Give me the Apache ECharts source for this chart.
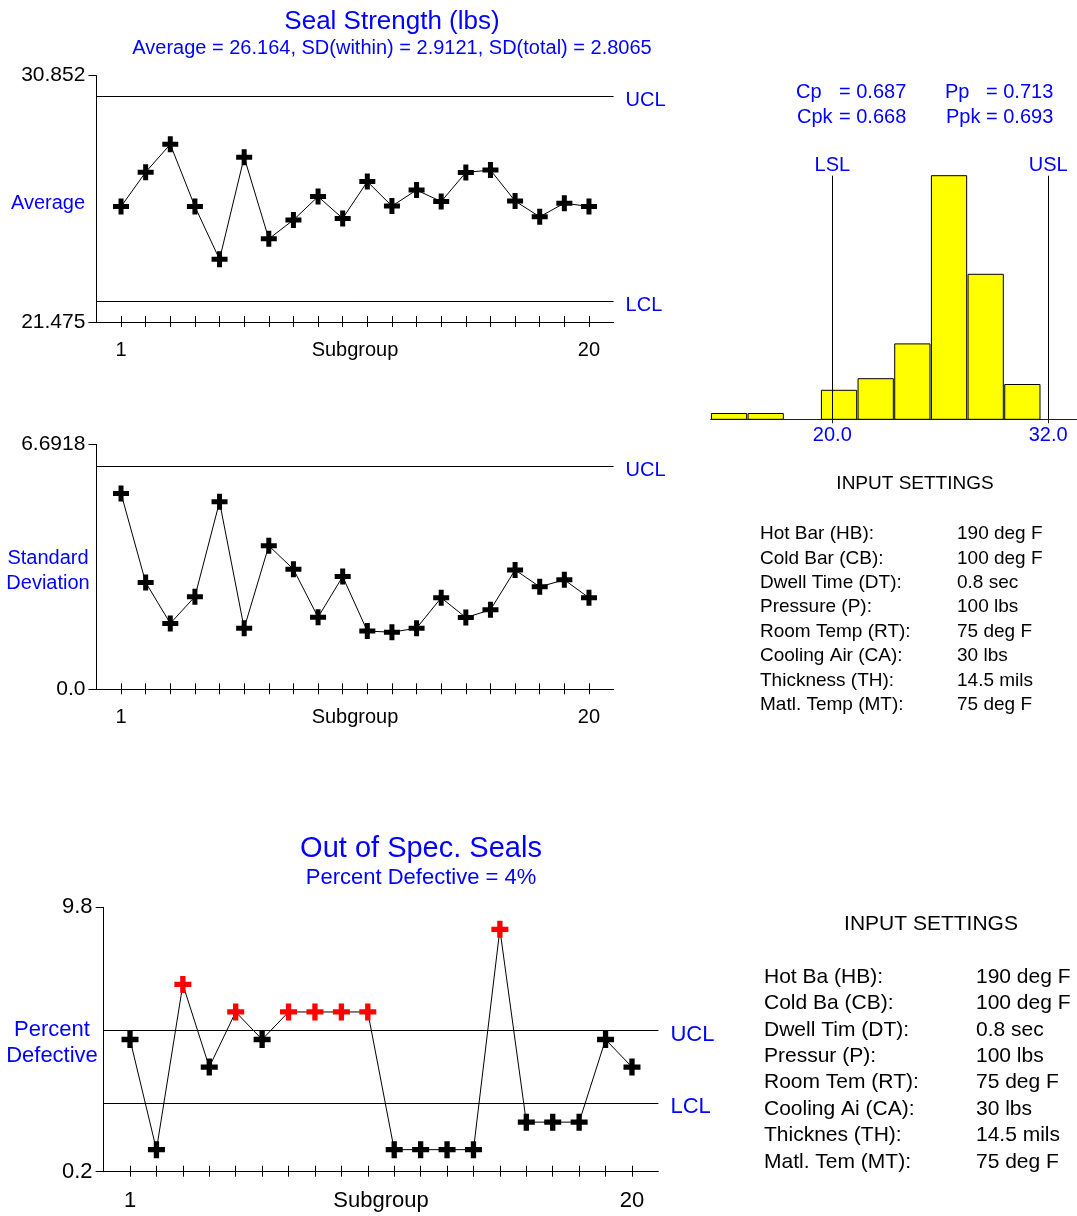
<!DOCTYPE html>
<html>
<head>
<meta charset="utf-8">
<title>Seal Strength</title>
<script src="https://cdn.jsdelivr.net/npm/echarts@6/dist/echarts.min.js"></script>
<style>
  html, body { margin: 0; padding: 0; background: #fff; }
  #chart { width: 1077px; height: 1216px; }
</style>
</head>
<body>
<div id="chart"></div>
<script>
// ---- data ----
const subgroups = [1, 2, 3, 4, 5, 6, 7, 8, 9, 10, 11, 12, 13, 14, 15, 16, 17, 18, 19, 20];
const subgroupLabels = [1, 20];

const avgValues = [25.87, 27.18, 28.24, 25.87, 23.86, 27.75, 24.64, 25.36, 26.25, 25.42,
                   26.82, 25.89, 26.50, 26.06, 27.17, 27.26, 26.08, 25.48, 26.00, 25.87];
const avgLimits = { UCL: 30.071, LCL: 22.257 };
const avgRange = [21.475, 30.852];
const avgTickLabels = ['21.475', '30.852'];

const sdValues = [5.35, 2.92, 1.80, 2.53, 5.12, 1.67, 3.92, 3.28, 1.97, 3.08,
                  1.59, 1.56, 1.67, 2.50, 1.96, 2.17, 3.26, 2.80, 2.99, 2.50];
const sdLimits = { UCL: 6.08 };
const sdRange = [0, 6.6918];
const sdTickLabels = ['0.0', '6.6918'];

const pctValues = [5, 1, 7, 4, 6, 5, 6, 6, 6, 6, 1, 1, 1, 1, 9, 2, 2, 2, 5, 4];
const pctLimits = { UCL: 5.32, LCL: 2.68 };
const pctRange = [0.2, 9.8];
const pctTickLabels = ['0.2', '9.8'];

// histogram of individual seal strengths
const binStart = 13.24;
const binWidth = 2.038;
const binCounts = [1, 1, 0, 5, 7, 13, 42, 25, 6];
const specLimits = { LSL: 20, USL: 32 };
const histTickLabels = ['20.0', '32.0'];

const capability = [['Cp', '0.687'], ['Cpk', '0.668'], ['Pp', '0.713'], ['Ppk', '0.693']];

const settingNames = ['Hot Bar (HB):', 'Cold Bar (CB):', 'Dwell Time (DT):', 'Pressure (P):',
                      'Room Temp (RT):', 'Cooling Air (CA):', 'Thickness (TH):', 'Matl. Temp (MT):'];
const settingNamesShort = ['Hot Ba (HB):', 'Cold Ba (CB):', 'Dwell Tim (DT):', 'Pressur (P):',
                           'Room Tem (RT):', 'Cooling Ai (CA):', 'Thicknes (TH):', 'Matl. Tem (MT):'];
const settingValues = ['190 deg F', '100 deg F', '0.8 sec', '100 lbs',
                       '75 deg F', '30 lbs', '14.5 mils', '75 deg F'];

// ---- styling ----
const FONT = "'Liberation Sans', Arial, sans-serif";
const BLUE = '#0000ff';
const RED = '#ff0000';
const PLUS = 'path://M5.5,0H10.5V5.5H16V10.5H10.5V16H5.5V10.5H0V5.5H5.5Z';

const chart = echarts.init(document.getElementById('chart'));

function pairs(vals) { return vals.map((v, i) => [subgroups[i], v]); }

function subgroupAxes(gridIndex, fontSize) {
  const main = {
    type: 'value', gridIndex, min: 0, max: 21, position: 'bottom',
    name: 'Subgroup', nameLocation: 'middle', nameGap: 18, nameMoveOverlap: false,
    nameTextStyle: { color: '#000', fontSize, fontFamily: FONT, verticalAlign: 'top' },
    axisLine: { show: true, lineStyle: { color: '#000', width: 1 } },
    axisTick: { show: true, length: 5, customValues: subgroups, lineStyle: { color: '#000' } },
    axisLabel: { show: true, customValues: subgroupLabels, margin: 18, color: '#000', fontSize, fontFamily: FONT },
    splitLine: { show: false }
  };
  // second axis on the same line draws the upper half of each crossing tick
  const inner = {
    type: 'value', gridIndex, min: 0, max: 21, position: 'bottom',
    axisLine: { show: false },
    axisTick: { show: true, inside: true, length: 6, customValues: subgroups, lineStyle: { color: '#000' } },
    axisLabel: { show: false },
    splitLine: { show: false }
  };
  return [main, inner];
}

function valueAxis(gridIndex, range, labels, fontSize) {
  return {
    type: 'value', gridIndex, min: range[0], max: range[1],
    axisLine: { show: true, lineStyle: { color: '#000', width: 1 } },
    axisTick: { show: true, length: 8, customValues: range, lineStyle: { color: '#000' } },
    axisLabel: {
      show: true, customValues: range, margin: 11, color: '#000', fontSize, fontFamily: FONT,
      formatter: v => (Math.abs(v - range[0]) < 1e-9 ? labels[0] : labels[1])
    },
    splitLine: { show: false }
  };
}

function limitLines(limits, fontSize) {
  return {
    silent: true, symbol: ['none', 'none'],
    lineStyle: { color: '#000', width: 1, type: 'solid' },
    label: { show: true, position: 'end', distance: 12, offset: [0, 4], color: BLUE, fontSize, fontFamily: FONT,
             formatter: p => p.name },
    emphasis: { disabled: true },
    data: Object.keys(limits).map(k => ({ name: k, yAxis: limits[k] }))
  };
}

function controlSeries(name, vals, xi, yi, limits, fontSize, symSize, flagAbove) {
  return {
    name, type: 'line', xAxisIndex: xi, yAxisIndex: yi,
    data: pairs(vals).map(p => ({
      value: p,
      itemStyle: { color: flagAbove && p[1] > limits.UCL ? RED : '#000' }
    })),
    symbol: PLUS, symbolSize: symSize, showAllSymbol: true,
    lineStyle: { color: '#000', width: 1 },
    itemStyle: { color: '#000' },
    markLine: limitLines(limits, fontSize),
    z: 3
  };
}

const xAxes = [
  ...subgroupAxes(0, 20),
  ...subgroupAxes(1, 20),
  ...subgroupAxes(2, 22),
  {
    type: 'value', gridIndex: 3, min: binStart, max: 33.6, position: 'bottom',
    axisLine: { show: true, lineStyle: { color: '#222', width: 1 } },
    axisTick: { show: true, length: 4, customValues: [specLimits.LSL, specLimits.USL], lineStyle: { color: '#222' } },
    axisLabel: {
      show: true, customValues: [specLimits.LSL, specLimits.USL], margin: 6,
      color: BLUE, fontSize: 20, fontFamily: FONT,
      formatter: v => (v === specLimits.LSL ? histTickLabels[0] : histTickLabels[1])
    },
    splitLine: { show: false }
  }
];

const yAxes = [
  valueAxis(0, avgRange, avgTickLabels, 21),
  valueAxis(1, sdRange, sdTickLabels, 21),
  valueAxis(2, pctRange, pctTickLabels, 22),
  { type: 'value', gridIndex: 3, min: 0, max: 50, show: false, splitLine: { show: false } }
];

const maxCount = Math.max(...binCounts);
const histData = binCounts.map((c, i) => [binStart + i * binWidth, binStart + (i + 1) * binWidth, c]);

function textEl(text, x, y, size, color, align) {
  return {
    type: 'text', x, y, silent: true,
    style: { text, font: size + 'px ' + FONT, fill: color, textAlign: align || 'left', textVerticalAlign: 'middle', verticalAlign: 'middle' }
  };
}

const graphics = [];
// axis captions
graphics.push(textEl('Average', 48, 203, 20, BLUE, 'center'));
graphics.push(textEl('Standard', 48, 558, 20, BLUE, 'center'));
graphics.push(textEl('Deviation', 48, 583, 20, BLUE, 'center'));
graphics.push(textEl('Percent', 52, 1030, 22, BLUE, 'center'));
graphics.push(textEl('Defective', 52, 1056, 22, BLUE, 'center'));
// process capability
const capPos = [[796, 92], [797, 117], [945, 92], [946, 117]];
capability.forEach((c, i) => {
  graphics.push(textEl(c[0], capPos[i][0], capPos[i][1], 20, BLUE));
  graphics.push(textEl('= ' + c[1], capPos[i][0] < 900 ? 839 : 986, capPos[i][1], 20, BLUE));
});
// input settings panels
graphics.push(textEl('INPUT SETTINGS', 915, 484, 19, '#000', 'center'));
settingNames.forEach((n, i) => {
  graphics.push(textEl(n, 760, 534 + i * 24.4, 19, '#000'));
  graphics.push(textEl(settingValues[i], 957, 534 + i * 24.4, 19, '#000'));
});
graphics.push(textEl('INPUT SETTINGS', 931, 924, 21, '#000', 'center'));
settingNamesShort.forEach((n, i) => {
  graphics.push(textEl(n, 764, 977 + i * 26.4, 21, '#000'));
  graphics.push(textEl(settingValues[i], 976, 977 + i * 26.4, 21, '#000'));
});

const gridBase = { containLabel: false, outerBoundsMode: 'none' };

chart.setOption({
  animation: false,
  backgroundColor: '#fff',
  textStyle: { fontFamily: FONT },
  title: [
    {
      text: 'Seal Strength (lbs)',
      subtext: 'Average = 26.164, SD(within) = 2.9121, SD(total) = 2.8065',
      left: 392, top: 9, textAlign: 'center', padding: 0, itemGap: 3,
      textStyle: { color: BLUE, fontSize: 26, fontWeight: 'normal', fontFamily: FONT },
      subtextStyle: { color: BLUE, fontSize: 20, fontFamily: FONT }
    },
    {
      text: 'Out of Spec. Seals',
      subtext: 'Percent Defective = 4%',
      left: 421, top: 834, textAlign: 'center', padding: 0, itemGap: 4,
      textStyle: { color: BLUE, fontSize: 29, fontWeight: 'normal', fontFamily: FONT },
      subtextStyle: { color: BLUE, fontSize: 22, fontFamily: FONT }
    }
  ],
  grid: [
    { ...gridBase, left: 96.4, top: 75.7, width: 517.2, height: 246.3 },
    { ...gridBase, left: 96.4, top: 444.3, width: 517.2, height: 245 },
    { ...gridBase, left: 103.6, top: 907.3, width: 554.8, height: 264.4 },
    { ...gridBase, left: 710.7, top: 129.3, width: 366.3, height: 290 }
  ],
  xAxis: xAxes,
  yAxis: yAxes,
  series: [
    controlSeries('Average', avgValues, 0, 0, avgLimits, 20, 16, false),
    controlSeries('Standard Deviation', sdValues, 2, 1, sdLimits, 20, 16, false),
    controlSeries('Percent Defective', pctValues, 4, 2, pctLimits, 22, 17, true),
    {
      name: 'Seal Strength', type: 'custom', xAxisIndex: 6, yAxisIndex: 3,
      data: histData,
      encode: { x: [0, 1], y: 2 },
      renderItem: (params, api) => {
        const p0 = api.coord([api.value(0), api.value(2)]);
        const p1 = api.coord([api.value(1), 0]);
        if (api.value(2) <= 0) return null;
        return {
          type: 'rect',
          shape: { x: p0[0] + 0.7, y: p0[1], width: p1[0] - p0[0] - 1.4, height: p1[1] - p0[1] },
          style: { fill: '#ffff00', stroke: '#000', lineWidth: 1 }
        };
      },
      markLine: {
        silent: true, symbol: ['none', 'none'],
        lineStyle: { color: '#000', width: 1, type: 'solid' },
        label: { show: true, position: 'end', distance: 0, color: BLUE, fontSize: 20, fontFamily: FONT, formatter: p => p.name },
        data: Object.keys(specLimits).map(k => [
          { name: k, coord: [specLimits[k], 0] },
          { coord: [specLimits[k], maxCount] }
        ])
      },
      z: 2
    }
  ],
  graphic: graphics
});
</script>
</body>
</html>
